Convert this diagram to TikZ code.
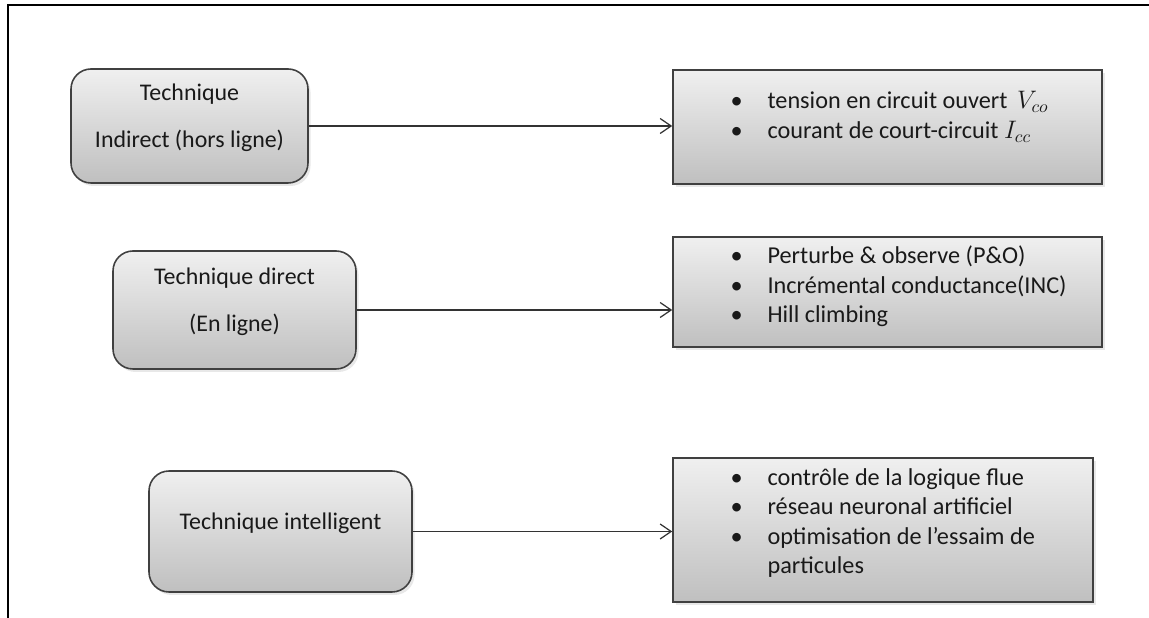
\documentclass[tikz,border=0pt]{standalone}
\usepackage{fontspec}
\setmainfont{Carlito}
\usetikzlibrary{arrows.meta, positioning, calc, shadows}

% bullet line for the method lists
\newcommand{\bitem}[1]{\makebox[0.74cm][l]{\textbullet}#1}

\tikzset{
  tech/.style={draw=black!75, line width=0.9pt, rounded corners=0.4cm,
    top color=black!6, bottom color=black!25,
    drop shadow={opacity=0.18, shadow xshift=0.05cm, shadow yshift=-0.06cm}},
  techtext/.style={align=center, text=black!90,
    font=\fontsize{13.6}{17}\selectfont},
  meth/.style={draw=black!75, line width=0.9pt,
    top color=black!6, bottom color=black!25,
    drop shadow={opacity=0.18, shadow xshift=0.05cm, shadow yshift=-0.06cm}},
  methtext/.style={align=left, inner sep=0pt, anchor=north west, text=black!90,
    font=\fontsize{13.8}{16.8}\selectfont},
  link/.style={-{Straight Barb[length=0.22cm,width=0.3cm]}, line width=0.7pt,
    draw=black!80}
}

\begin{document}
\begin{tikzpicture}
  \useasboundingbox (0,0) rectangle (22.98,12.36);

  % frame
  \draw[line width=1.1pt] (0.16,0) -- (0.16,12.26) -- (22.98,12.26);

  % techniques
  \node[tech, minimum width=4.74cm, minimum height=2.28cm] (b1) at (3.79,9.84) {};
  \node[techtext] (t1) at ([yshift=0.16cm]b1.center)
    {Technique\\[10pt]Indirect (hors ligne)};

  \node[tech, minimum width=4.86cm, minimum height=2.36cm] (b2) at (4.69,6.16) {};
  \node[techtext] (t2) at ([yshift=0.16cm]b2.center)
    {Technique direct\\[10pt](En ligne)};

  \node[tech, minimum width=5.26cm, minimum height=2.42cm] (b3) at (5.61,1.73) {};
  \node[techtext] (t3) at ([yshift=0.16cm]b3.center) {Technique intelligent};

  % methods
  \node[meth, minimum width=8.58cm, minimum height=2.28cm] (r1) at (17.75,9.82) {};
  \node[methtext] (l1) at ($(r1.north west)+(1.16,-0.44)$)
    {\bitem{tension en circuit ouvert \,$V_{co}$}\\
     \bitem{courant de court-circuit $I_{cc}$}};

  \node[meth, minimum width=8.58cm, minimum height=2.2cm] (r2) at (17.75,6.52) {};
  \node[methtext] (l2) at ($(r2.north west)+(1.16,-0.19)$)
    {\bitem{Perturbe \& observe (P\&O)}\\
     \bitem{Incrémental conductance(INC)}\\
     \bitem{Hill climbing}};

  \node[meth, minimum width=8.40cm, minimum height=2.88cm] (r3) at (17.66,1.76) {};
  \node[methtext] (l3) at ($(r3.north west)+(1.16,-0.22)$)
    {\bitem{contrôle de la logique flue}\\
     \bitem{réseau neuronal artificiel}\\
     \bitem{optimisation de l’essaim de}\\
     \hspace*{0.74cm}particules};

  % links
  \draw[link] (b1.east) -- (b1.east -| r1.west);
  \draw[link] (b2.east) -- (b2.east -| r2.west);
  \draw[link] (b3.east) -- (b3.east -| r3.west);
\end{tikzpicture}
\end{document}
